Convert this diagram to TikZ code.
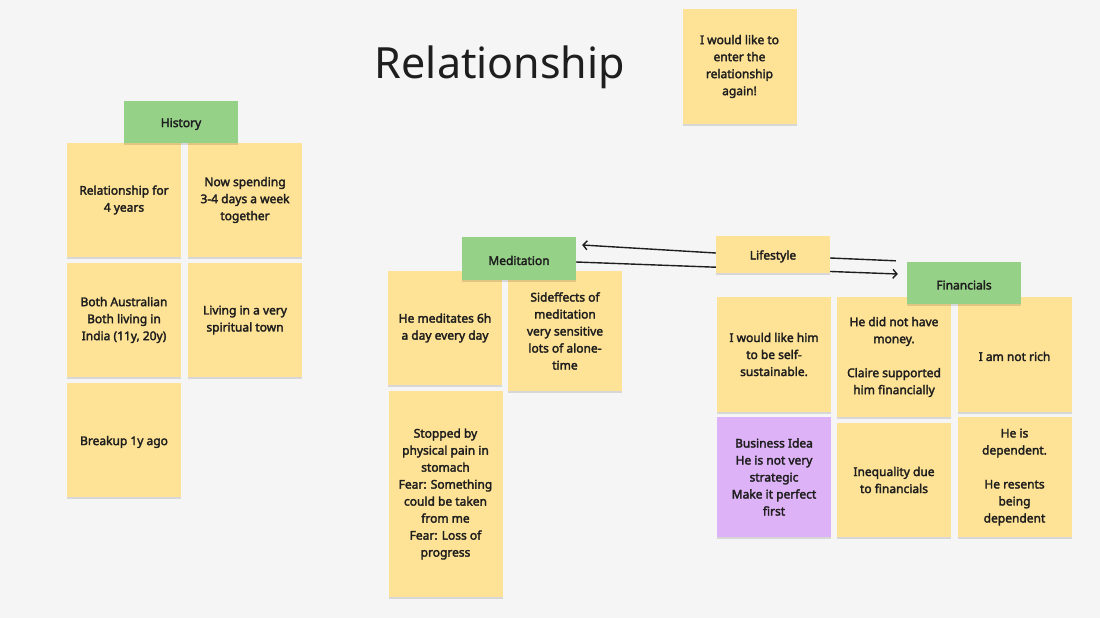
\documentclass[tikz,border=0pt]{standalone}
\usepackage{fontspec}
\setmainfont{Noto Sans}
\newfontfamily\notefam{Noto Sans}[FakeBold=2.5]
\usetikzlibrary{arrows.meta,shadows,calc}
\pgfdeclarelayer{bg}
\pgfdeclarelayer{lines}
\pgfsetlayers{bg,lines,main}
\definecolor{sticky}{RGB}{254,226,150}
\definecolor{greenhead}{RGB}{150,209,136}
\definecolor{purplenote}{RGB}{222,178,246}
\definecolor{paper}{RGB}{245,245,245}
\definecolor{ink}{RGB}{30,30,30}
\newcommand{\notefont}{\notefam\fontsize{12}{17}\selectfont}
\tikzset{
  note/.style={fill=sticky, text=ink, align=center, font=\notefont,
    minimum width=114pt, inner sep=0pt,
    execute at begin node={\rule{0pt}{13pt}},
    drop shadow={shadow xshift=0pt, shadow yshift=-2pt, opacity=0.12, fill=black}},
  header/.style={note, fill=greenhead},
  purple/.style={note, fill=purplenote},
  conn/.style={draw=ink, line width=1.4pt},
  tip/.style={-{Straight Barb[length=4pt,width=9pt]}}
}
\begin{document}
\begin{tikzpicture}[x=1pt,y=-1pt]
\begin{pgfonlayer}{bg}
\fill[paper] (0,0) rectangle (1100,618);
\end{pgfonlayer}
\useasboundingbox (0,0) rectangle (1100,618);

\node[font=\fontsize{43}{48}\selectfont, text=ink, anchor=base] (title) at (500,78) {Relationship};
\node[note, minimum height=115pt] (again) at (739.5,66.5) {I would like to\\enter the\\relationship\\again!};

% History
\node[note, minimum height=114pt] (h1) at (124,200) {Relationship for\\4 years};
\node[note, minimum height=114pt] (h2) at (245,200) {Now spending\\3-4 days a week\\together};
\node[note, minimum height=114pt] (h3) at (124,320) {Both Australian\\Both living in\\India (11y, 20y)};
\node[note, minimum height=114pt] (h4) at (245,320) {Living in a very\\spiritual town};
\node[note, minimum height=114pt] (h5) at (124,440) {Breakup 1y ago};
\node[header, minimum height=42pt] (hist) at (181,122) {History};

% Meditation
\node[note, minimum height=114pt] (m1) at (445,328) {He meditates 6h\\a day every day};
\node[note, minimum height=120pt] (m2) at (565,331) {Sideffects of\\meditation\\very sensitive\\lots of alone-\\time};
\node[note, minimum height=206pt] (m3) at (445.5,494) {Stopped by\\physical pain in\\stomach\\Fear: Something\\could be taken\\from me\\Fear: Loss of\\progress};
\node[header, minimum height=43pt] (med) at (519,258.5) {Meditation};

% Lifestyle / Financials
\node[note, minimum height=37pt] (life) at (773,254.5) {Lifestyle};
\node[note, minimum height=115pt] (f1) at (774,354.5) {I would like him\\to be self-\\sustainable.};
\node[note, minimum height=120pt] (f2) at (894,357) {He did not have\\money.\\[17pt]Claire supported\\him financially};
\node[note, minimum height=115pt] (f3) at (1014.5,354.5) {I am not rich};
\node[purple, minimum height=120pt] (f4) at (774,477) {Business Idea\\He is not very\\strategic\\Make it perfect\\first};
\node[note, minimum height=114pt] (f5) at (894,480) {Inequality due\\to financials};
\node[note, minimum height=120pt] (f6) at (1014.5,477) {He is\\dependent.\\[17pt]He resents\\being\\dependent};
\node[header, minimum height=42pt] (fin) at (964,283) {Financials};

\begin{pgfonlayer}{lines}
\draw[conn, tip] ($(life.west)+(0,-1.5)$) -- ($(med.east)+(6,-13.5)$);
\draw[conn, tip] ($(med.east)+(0,3.5)$) -- ($(fin.west)+(-9,-9)$);
\draw[conn] ($(life.east)+(0,3.5)$) -- ($(fin.north west)+(-11,-1)$);
\end{pgfonlayer}
\end{tikzpicture}
\end{document}
